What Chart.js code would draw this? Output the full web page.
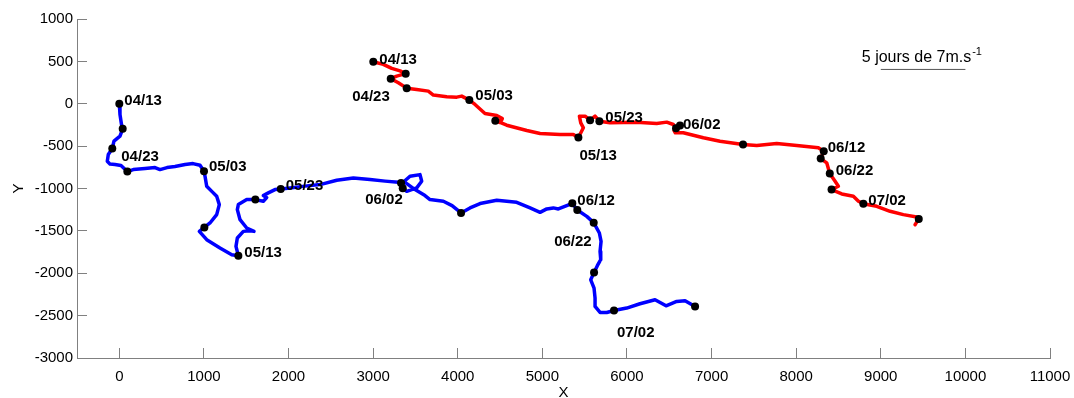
<!DOCTYPE html>
<html>
<head>
<meta charset="utf-8">
<script src="https://cdn.jsdelivr.net/npm/chart.js@4"></script>
<style>
  html, body { margin: 0; padding: 0; background: #fff; }
</style>
</head>
<body>
<canvas id="traj" width="1074" height="398"></canvas>
<script>
// drifter tracks (X, Y)
const blueTrackX = [0, 8, 26, 40, 8, -63, -83, -130, -142, -110,
    -51, 20, 95, 165, 304, 422, 481, 564, 658, 777,
    871, 954, 1001, 1013, 1033, 1096, 1151, 1182, 1151, 1072,
    1005, 946, 1033, 1190, 1329, 1407, 1379, 1395, 1466, 1545,
    1592, 1506, 1427, 1395, 1407, 1506, 1608, 1702, 1742, 1702,
    1761, 1840, 1908, 2018, 2195, 2372, 2570, 2766, 2963, 3141,
    3298, 3330, 3350, 3397, 3515, 3574, 3554, 3436, 3365, 3495,
    3613, 3672, 3830, 3933, 4039, 4145, 4264, 4461, 4697, 4855,
    4973, 5052, 5130, 5189, 5288, 5354, 5413, 5525, 5607, 5674,
    5694, 5682, 5690, 5650, 5611, 5572, 5611, 5623, 5623, 5682,
    5761, 5847, 5997, 6154, 6332, 6462, 6588, 6687, 6805];
const blueTrackY = [0, -126, -245, -296, -383, -442, -528, -599, -678, -712,
    -717, -729, -800, -777, -765, -753, -777, -753, -741, -717,
    -706, -726, -797, -856, -974, -1037, -1092, -1190, -1308, -1407,
    -1459, -1506, -1604, -1702, -1781, -1793, -1683, -1584, -1506, -1498,
    -1506, -1466, -1368, -1249, -1190, -1131, -1131, -1151, -1108, -1084,
    -1052, -1013, -1005, -993, -972, -954, -903, -875, -895, -913,
    -927, -934, -998, -1033, -993, -915, -836, -856, -918, -1013,
    -1084, -1131, -1151, -1202, -1288, -1229, -1178, -1139, -1163, -1229,
    -1281, -1241, -1229, -1241, -1202, -1175, -1253, -1329, -1403, -1525,
    -1624, -1742, -1840, -1911, -1990, -2077, -2175, -2293, -2392, -2463,
    -2463, -2440, -2411, -2360, -2313, -2384, -2333, -2325, -2392];

const redTrackX = [3002, 3120, 3220, 3318, 3385, 3279, 3208, 3298, 3397, 3515,
    3652, 3712, 3870, 3988, 4047, 4137, 4204, 4322, 4461, 4527,
    4516, 4444, 4500, 4579, 4816, 4973, 5209, 5366, 5426, 5485,
    5454, 5438, 5505, 5564, 5623, 5674, 5800, 6116, 6352, 6470,
    6548, 6580, 6627, 6557, 6572, 6666, 6903, 7100, 7372, 7534,
    7770, 8007, 8262, 8326, 8290, 8361, 8397, 8460, 8499, 8418,
    8539, 8676, 8736, 8794, 8952, 9110, 9267, 9425, 9449, 9405];
const redTrackY = [496, 465, 417, 388, 355, 326, 296, 248, 184, 169,
    149, 102, 83, 78, 90, 43, -8, -115, -138, -174,
    -199, -201, -221, -253, -316, -351, -363, -363, -398, -284,
    -225, -147, -147, -194, -147, -206, -225, -217, -233, -217,
    -245, -288, -256, -316, -343, -343, -402, -442, -481, -493,
    -469, -493, -520, -560, -647, -697, -824, -915, -974, -1013,
    -1064, -1092, -1151, -1179, -1210, -1269, -1308, -1336, -1359, -1427];

// positions every 5 days, 04/13 .. 07/07
const blueDotX = [0, 40, -83, 95, 1001, 1005, 1407, 1608, 1908, 3330, 3350, 4039, 5354, 5413, 5607, 5611, 5847, 6805];
const blueDotY = [0, -296, -528, -800, -797, -1459, -1793, -1131, -1005, -934, -998, -1288, -1175, -1253, -1403, -1990, -2440, -2392];
const redDotX = [3002, 3385, 3208, 3397, 4137, 4444, 5426, 5564, 5674, 6580, 6627, 7372, 8326, 8290, 8397, 8418, 8794, 9449];
const redDotY = [496, 355, 296, 184, 43, -201, -398, -194, -206, -288, -256, -481, -560, -647, -824, -1013, -1179, -1359];

// dates written every 10 days
const labelDates = ['04/13', '04/23', '05/03', '05/13', '05/23', '06/02', '06/12', '06/22', '07/02'];
const labelDot = [0, 2, 4, 6, 8, 10, 12, 14, 16];

const scaleBarX = [9000, 10000];
const scaleBarY = [405, 405];
const scaleText = '5 jours de 7m.s';

const xTicks = [0, 1000, 2000, 3000, 4000, 5000, 6000, 7000, 8000, 9000, 10000, 11000];
const yTicks = [-3000, -2500, -2000, -1500, -1000, -500, 0, 500, 1000];

const pts = (xs, ys) => xs.map((v, i) => ({ x: v, y: ys[i] }));

// text placement next to each dot: [dx, dy, rightAligned]
const blueOffsets = [[5, -3], [9, 8], [5, -4], [6, -3], [5, -3], [0, 12, 1], [5, -2], [-2, 19, 1], [3, 22]];
const redOffsets = [[6, -2], [-1, 18, 1], [6, -4], [1, 18], [6, -3], [3, -1], [4, -3], [6, -3], [5, -3]];

const FONT = '"Liberation Sans", Arial, Helvetica, sans-serif';

const dateLabels = {
    id: 'dateLabels',
    afterDatasetsDraw(chart) {
        const { ctx, scales: { x, y } } = chart;
        ctx.save();
        ctx.fillStyle = '#000';
        ctx.font = 'bold 15px ' + FONT;
        ctx.textBaseline = 'middle';
        const put = (xs, ys, offs) => {
            labelDot.forEach((i, k) => {
                const o = offs[k];
                ctx.textAlign = o[2] ? 'right' : 'left';
                ctx.fillText(labelDates[k], x.getPixelForValue(xs[i]) + o[0], y.getPixelForValue(ys[i]) + o[1]);
            });
        };
        put(blueDotX, blueDotY, blueOffsets);
        put(redDotX, redDotY, redOffsets);

        // caption of the scale bar
        const sx = x.getPixelForValue(scaleBarX[0]) - 19;
        const sy = y.getPixelForValue(scaleBarY[0]) - 7;
        ctx.textAlign = 'left';
        ctx.textBaseline = 'alphabetic';
        ctx.font = '16px ' + FONT;
        ctx.fillText(scaleText, sx, sy);
        const w = ctx.measureText(scaleText).width;
        ctx.font = '11px ' + FONT;
        ctx.fillText('-1', sx + w + 1, sy - 7);
        ctx.restore();
    }
};

const axisColor = '#808080';

new Chart(document.getElementById('traj'), {
    type: 'scatter',
    data: {
        datasets: [
            {
                data: pts(blueDotX, blueDotY),
                backgroundColor: '#000',
                borderWidth: 0,
                pointRadius: 4,
                order: 0
            },
            {
                data: pts(redDotX, redDotY),
                backgroundColor: '#000',
                borderWidth: 0,
                pointRadius: 4,
                order: 0
            },
            {
                data: pts(blueTrackX, blueTrackY),
                showLine: true,
                borderColor: '#0000ff',
                borderWidth: 3.5,
                pointRadius: 0,
                borderJoinStyle: 'round',
                borderCapStyle: 'round',
                order: 1
            },
            {
                data: pts(redTrackX, redTrackY),
                showLine: true,
                borderColor: '#ff0000',
                borderWidth: 3.5,
                pointRadius: 0,
                borderJoinStyle: 'round',
                borderCapStyle: 'round',
                order: 1
            },
            {
                data: pts(scaleBarX, scaleBarY),
                showLine: true,
                borderColor: '#555',
                borderWidth: 1,
                pointRadius: 0,
                order: 1
            }
        ]
    },
    options: {
        responsive: false,
        animation: false,
        layout: {
            padding: { left: 0, right: 24, top: 19, bottom: 0 }
        },
        scales: {
            x: {
                type: 'linear',
                min: -500,
                max: 11000,
                afterBuildTicks: s => { s.ticks = xTicks.map(v => ({ value: v })); },
                afterFit: s => {
                    s.height = 40;
                    s.paddingLeft = 0;
                    s.paddingRight = 0;
                },
                grid: { drawOnChartArea: false, tickLength: -10, color: axisColor },
                border: { color: axisColor },
                ticks: {
                    color: '#000',
                    padding: 20,
                    autoSkip: false,
                    maxRotation: 0,
                    font: { family: FONT, size: 15 },
                    callback: v => String(v)
                },
                title: {
                    display: true,
                    text: 'X',
                    color: '#000',
                    font: { family: FONT, size: 15 },
                    padding: { top: 0, bottom: -4 }
                }
            },
            y: {
                type: 'linear',
                min: -3000,
                max: 1000,
                afterBuildTicks: s => { s.ticks = yTicks.map(v => ({ value: v })); },
                afterFit: s => {
                    s.width = 77;
                    s.paddingTop = 0;
                    s.paddingBottom = 0;
                },
                grid: { drawOnChartArea: false, tickLength: -10, color: axisColor },
                border: { color: axisColor },
                ticks: {
                    color: '#000',
                    padding: 14,
                    font: { family: FONT, size: 15 },
                    callback: v => String(v)
                },
                title: {
                    display: true,
                    text: 'Y',
                    color: '#000',
                    font: { family: FONT, size: 15 },
                    padding: { top: 10, bottom: 0 }
                }
            }
        },
        plugins: {
            legend: { display: false },
            tooltip: { enabled: false }
        }
    },
    plugins: [dateLabels]
});
</script>
</body>
</html>
